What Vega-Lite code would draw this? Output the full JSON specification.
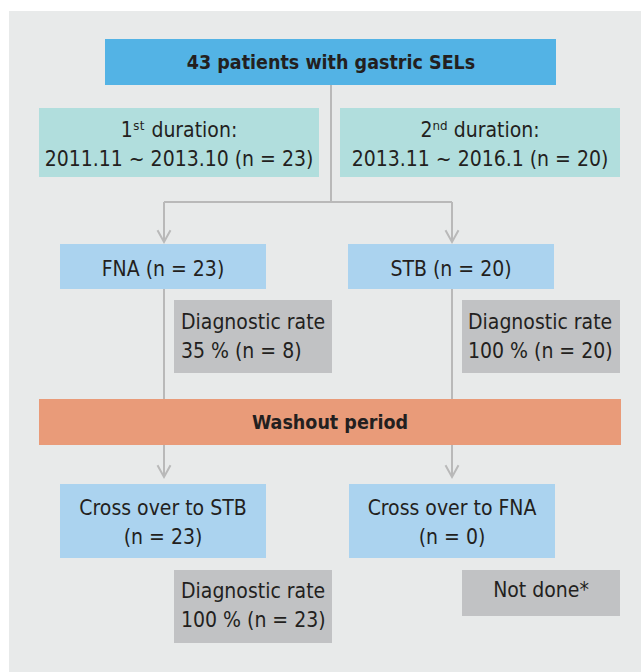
{
  "$schema": "https://vega.github.io/schema/vega-lite/v6.json",
  "width": 641,
  "height": 672,
  "padding": 0,
  "autosize": {"type": "none"},
  "background": "#ffffff",
  "config": {"view": {"stroke": null}},
  "datasets": {
    "boxes": [
      {"kind": "bg", "x1": 9, "x2": 641, "y1": 11, "y2": 672},
      {"kind": "top", "x1": 105, "x2": 556, "y1": 39, "y2": 85},
      {"kind": "teal", "x1": 39, "x2": 319, "y1": 108, "y2": 177},
      {"kind": "teal", "x1": 340, "x2": 620, "y1": 108, "y2": 177},
      {"kind": "blue", "x1": 60, "x2": 266, "y1": 244, "y2": 289},
      {"kind": "blue", "x1": 348, "x2": 554, "y1": 244, "y2": 289},
      {"kind": "gray", "x1": 174, "x2": 332, "y1": 300, "y2": 373},
      {"kind": "gray", "x1": 462, "x2": 620, "y1": 300, "y2": 373},
      {"kind": "orange", "x1": 39, "x2": 621, "y1": 399, "y2": 445},
      {"kind": "blue", "x1": 60, "x2": 266, "y1": 484, "y2": 558},
      {"kind": "blue", "x1": 349, "x2": 555, "y1": 484, "y2": 558},
      {"kind": "gray", "x1": 174, "x2": 332, "y1": 570, "y2": 643},
      {"kind": "gray", "x1": 462, "x2": 620, "y1": 570, "y2": 616}
    ],
    "lines": [
      {"x1": 331, "x2": 331, "y1": 85, "y2": 202},
      {"x1": 164, "x2": 452, "y1": 202, "y2": 202},
      {"x1": 164, "x2": 164, "y1": 202, "y2": 242},
      {"x1": 452, "x2": 452, "y1": 202, "y2": 242},
      {"x1": 164, "x2": 164, "y1": 289, "y2": 399},
      {"x1": 452, "x2": 452, "y1": 289, "y2": 399},
      {"x1": 164, "x2": 164, "y1": 445, "y2": 476},
      {"x1": 452, "x2": 452, "y1": 445, "y2": 476}
    ],
    "arrows": [
      {"x": 164, "y": 242},
      {"x": 452, "y": 242},
      {"x": 164, "y": 477},
      {"x": 452, "y": 477}
    ],
    "labels": [
      {"style": "bold", "x": 331, "y": 69, "text": "43 patients with gastric SELs"},
      {"style": "center", "x": 179, "y": 137, "text": "1ˢᵗ duration:\n2011.11 ~ 2013.10 (n = 23)"},
      {"style": "center", "x": 480, "y": 137, "text": "2ⁿᵈ duration:\n2013.11 ~ 2016.1 (n = 20)"},
      {"style": "center", "x": 163, "y": 276, "text": "FNA (n = 23)"},
      {"style": "center", "x": 451, "y": 276, "text": "STB (n = 20)"},
      {"style": "left", "x": 181, "y": 329, "text": "Diagnostic rate\n35 % (n = 8)"},
      {"style": "left", "x": 468, "y": 329, "text": "Diagnostic rate\n100 % (n = 20)"},
      {"style": "bold", "x": 330, "y": 429, "text": "Washout period"},
      {"style": "center", "x": 163, "y": 515, "text": "Cross over to STB\n(n = 23)"},
      {"style": "center", "x": 452, "y": 515, "text": "Cross over to FNA\n(n = 0)"},
      {"style": "left", "x": 181, "y": 598, "text": "Diagnostic rate\n100 % (n = 23)"},
      {"style": "center", "x": 541, "y": 597, "text": "Not done*"}
    ]
  },
  "encoding": {},
  "layer": [
    {
      "data": {"name": "boxes"},
      "mark": {"type": "rect"},
      "encoding": {
        "x": {"field": "x1", "type": "quantitative", "scale": {"domain": [0, 641], "nice": false, "zero": false}, "axis": null},
        "x2": {"field": "x2"},
        "y": {"field": "y1", "type": "quantitative", "scale": {"domain": [0, 672], "nice": false, "zero": false, "reverse": true}, "axis": null},
        "y2": {"field": "y2"},
        "color": {
          "field": "kind", "type": "nominal", "legend": null,
          "scale": {
            "domain": ["bg", "top", "teal", "blue", "gray", "orange"],
            "range": ["#e8eaea", "#53b3e5", "#b1dedd", "#abd3ef", "#c1c2c4", "#e99b79"]
          }
        }
      }
    },
    {
      "data": {"name": "lines"},
      "mark": {"type": "rule", "color": "#b9b9b9", "strokeWidth": 2},
      "encoding": {
        "x": {"field": "x1", "type": "quantitative"},
        "x2": {"field": "x2"},
        "y": {"field": "y1", "type": "quantitative"},
        "y2": {"field": "y2"}
      }
    },
    {
      "data": {"name": "arrows"},
      "mark": {"type": "point", "shape": "M-1,-1.8L0,0L1,-1.8", "filled": false, "stroke": "#b9b9b9", "strokeWidth": 2, "size": 169, "opacity": 1},
      "encoding": {
        "x": {"field": "x", "type": "quantitative"},
        "y": {"field": "y", "type": "quantitative"}
      }
    },
    {
      "data": {"name": "labels"},
      "transform": [{"filter": "datum.style === 'center'"}],
      "mark": {"type": "text", "align": "center", "baseline": "alphabetic", "lineBreak": "\n", "lineHeight": 29, "fontSize": 21, "font": "Liberation Sans Narrow, DejaVu Sans Condensed, Roboto Condensed, Roboto, sans-serif", "color": "#231f20"},
      "encoding": {
        "x": {"field": "x", "type": "quantitative"},
        "y": {"field": "y", "type": "quantitative"},
        "text": {"field": "text"}
      }
    },
    {
      "data": {"name": "labels"},
      "transform": [{"filter": "datum.style === 'left'"}],
      "mark": {"type": "text", "align": "left", "baseline": "alphabetic", "lineBreak": "\n", "lineHeight": 29, "fontSize": 21, "font": "Liberation Sans Narrow, DejaVu Sans Condensed, Roboto Condensed, Roboto, sans-serif", "color": "#231f20"},
      "encoding": {
        "x": {"field": "x", "type": "quantitative"},
        "y": {"field": "y", "type": "quantitative"},
        "text": {"field": "text"}
      }
    },
    {
      "data": {"name": "labels"},
      "transform": [{"filter": "datum.style === 'bold'"}],
      "mark": {"type": "text", "align": "center", "baseline": "alphabetic", "fontSize": 19.5, "fontWeight": "bold", "font": "Liberation Sans Narrow, DejaVu Sans Condensed, Roboto Condensed, Roboto, sans-serif", "color": "#231f20"},
      "encoding": {
        "x": {"field": "x", "type": "quantitative"},
        "y": {"field": "y", "type": "quantitative"},
        "text": {"field": "text"}
      }
    }
  ]
}
